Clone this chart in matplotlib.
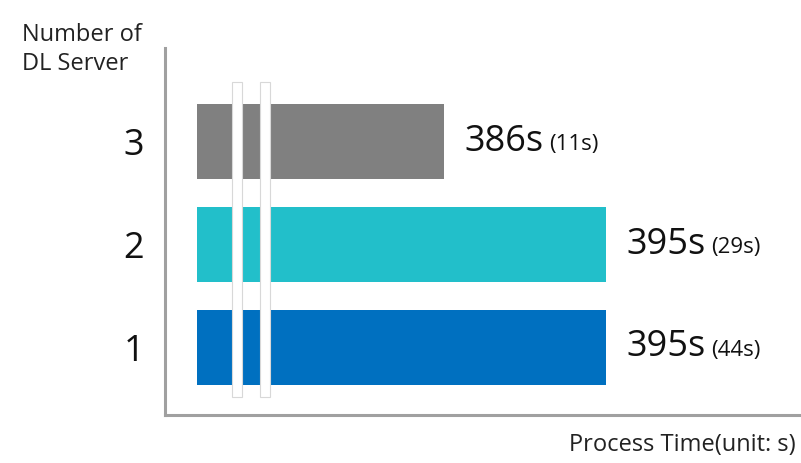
import matplotlib

matplotlib.use("Agg")
import matplotlib.pyplot as plt
from matplotlib.patches import Rectangle

servers = [1, 2, 3]
tick_labels = ["1", "2", "3"]
times = [395, 395, 386]
deltas = ["(44s)", "(29s)", "(11s)"]
colors = ["#0070c0", "#22bfca", "#808080"]

plt.rcParams["font.family"] = ["Open Sans", "DejaVu Sans"]

fig = plt.figure(figsize=(8.01, 4.63), dpi=100)
ax = fig.add_axes([0.206, 0.104, 0.793, 0.792])

# axis is broken, bars start from a shifted base
base = 372.3
ax.barh(servers, [t - base for t in times], left=base, height=0.73, color=colors)
ax.set_xlim(370.5, 405.8)
ax.set_ylim(0.345, 3.908)

for y, t, d in zip(servers, times, deltas):
    big = ax.annotate(f"{t}s", (t, y), xytext=(15, 0), textcoords="offset points",
                      ha="left", va="center", fontsize=26, fontweight=500,
                      color="#111111")
    ax.annotate(d, (1, 0.42), xycoords=big, xytext=(4, 0), textcoords="offset points",
                ha="left", va="center", fontsize=16, fontweight=500, color="#111111")

# break marks crossing the bars
for x0 in (0.1055, 0.1496):
    ax.add_patch(Rectangle((x0, 0.049), 0.0157, 0.858, transform=ax.transAxes,
                           facecolor="white", edgecolor="#d8d8d8", linewidth=0.8,
                           zorder=3))

ax.set_yticks(servers)
ax.set_yticklabels(tick_labels, fontsize=26, fontweight=500, color="#111111")
ax.tick_params(axis="y", length=0, pad=15)
ax.set_xticks([])
for side in ("top", "right"):
    ax.spines[side].set_visible(False)
for side in ("left", "bottom"):
    ax.spines[side].set_color("#a0a0a0")
    ax.spines[side].set_linewidth(2.2)

fig.text(0.027, 0.95, "Number of\nDL Server", fontsize=17, color="#222222",
         ha="left", va="top", linespacing=1.25)
fig.text(0.993, 0.012, "Process Time(unit: s)", fontsize=17, color="#222222",
         ha="right", va="bottom")

fig.savefig("out.png", dpi=100, facecolor="white")
